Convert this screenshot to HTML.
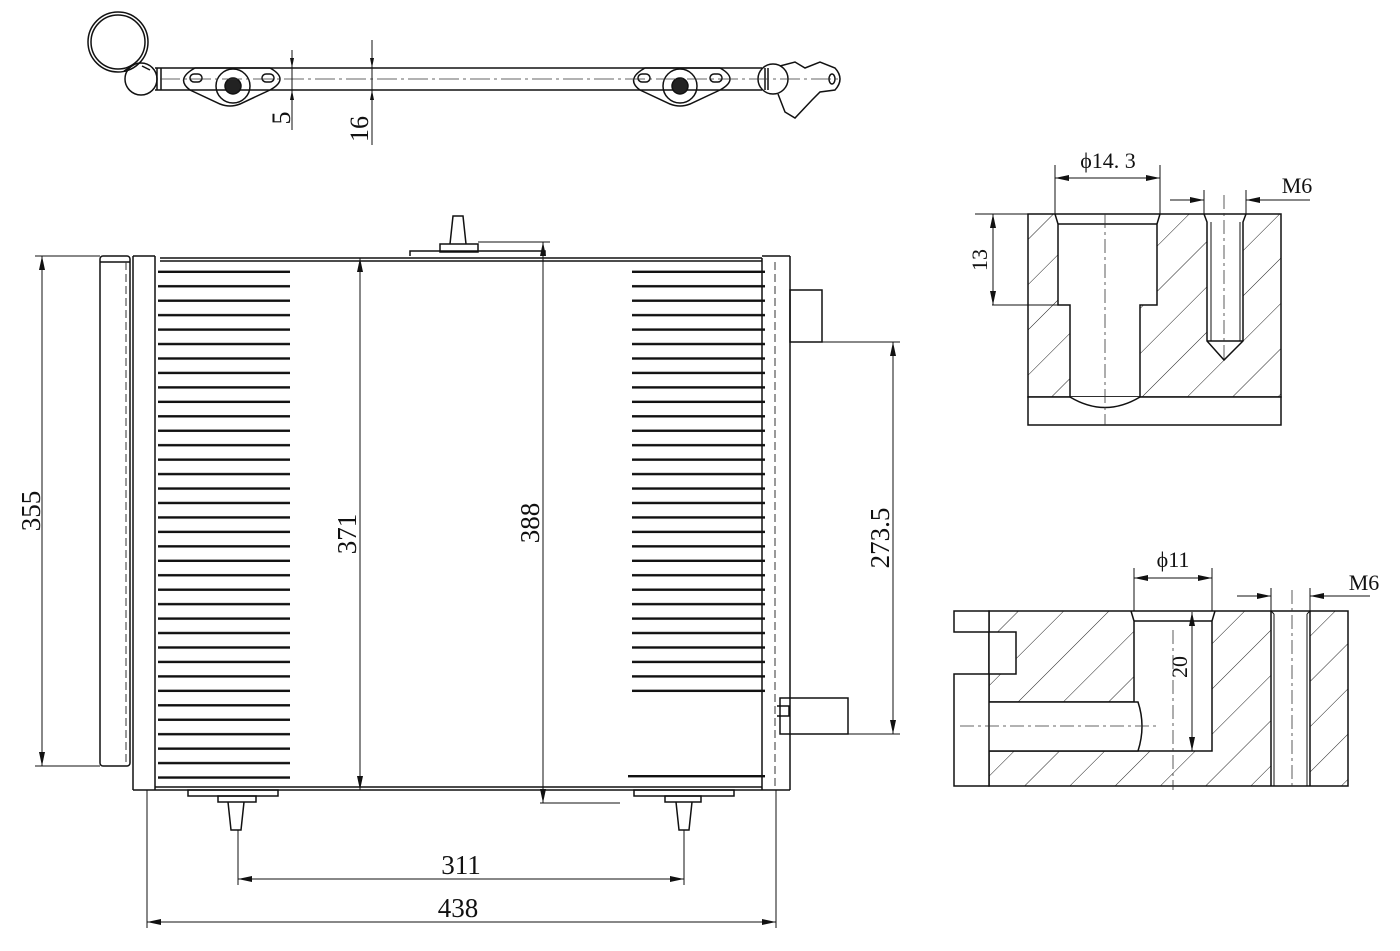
<!DOCTYPE html>
<html><head><meta charset="utf-8"><style>html,body{margin:0;padding:0;background:#fff}svg{display:block}text{font-family:"Liberation Serif",serif;fill:#111}</style></head><body>
<svg width="1400" height="951" viewBox="0 0 1400 951" xmlns="http://www.w3.org/2000/svg">
<defs>
<pattern id="h" width="32" height="32" patternUnits="userSpaceOnUse" patternTransform="rotate(45)"><line x1="0" y1="0" x2="0" y2="32" stroke="#222" stroke-width="1"/></pattern>
<pattern id="f" width="200" height="14.45" patternUnits="userSpaceOnUse" patternTransform="translate(0,270)"><rect x="0" y="0.6" width="200" height="2.4" fill="#111"/></pattern>
<marker id="a" viewBox="0 0 10 4" refX="10" refY="2" markerWidth="10" markerHeight="4" orient="auto-start-reverse" markerUnits="userSpaceOnUse"><path d="M0,0L10,2L0,4z" fill="#111"/></marker>
<marker id="b" viewBox="0 0 14 6" refX="14" refY="3" markerWidth="14" markerHeight="6" orient="auto-start-reverse" markerUnits="userSpaceOnUse"><path d="M0,0L14,3L0,6z" fill="#111"/></marker>
</defs>
<g fill="none" stroke="#111" stroke-width="1.5">
<circle cx="118" cy="42" r="30"/><circle cx="118" cy="42" r="27"/>
<line x1="124" y1="71" x2="135" y2="64"/><line x1="142" y1="66" x2="150" y2="70"/>
<circle cx="141" cy="79" r="16"/>
<line x1="155" y1="68" x2="762" y2="68"/><line x1="155" y1="90" x2="762" y2="90"/>
<line x1="157" y1="68" x2="157" y2="90"/><line x1="161" y1="68" x2="161" y2="90"/>
<path d="M195,68 L270,68 Q290,79 270,90 L240,104 Q230,108 220,104 L190,90 Q175,79 195,68z"/>
<circle cx="233" cy="86" r="17"/><circle cx="233" cy="86" r="8" fill="#222"/>
<rect x="190" y="74" width="12" height="8" rx="4"/><rect x="262" y="74" width="12" height="8" rx="4"/>
<path d="M645,68 L720,68 Q740,79 720,90 L690,104 Q680,108 670,104 L640,90 Q625,79 645,68z"/>
<circle cx="680" cy="86" r="17"/><circle cx="680" cy="86" r="8" fill="#222"/>
<rect x="638" y="74" width="12" height="8" rx="4"/><rect x="710" y="74" width="12" height="8" rx="4"/>
<line x1="765" y1="68" x2="765" y2="90"/><line x1="768" y1="68" x2="768" y2="90"/>
<circle cx="773" cy="79" r="15"/>
<path d="M780,66 L795,62 L805,68 L820,62 L835,68 Q845,79 835,90 L820,92 L812,100 L795,118 L785,112 L778,94"/>
<ellipse cx="832" cy="79" rx="3" ry="5"/>
</g>
<line x1="160" y1="79" x2="840" y2="79" stroke="#333" stroke-width="0.8" stroke-dasharray="20,4,3,4"/>
<g stroke="#111" stroke-width="1" fill="none">
<line x1="292" y1="50" x2="292" y2="130"/><line x1="292" y1="55" x2="292" y2="68" marker-end="url(#a)"/><line x1="292" y1="105" x2="292" y2="90" marker-end="url(#a)"/>
<line x1="372" y1="40" x2="372" y2="145"/><line x1="372" y1="50" x2="372" y2="68" marker-end="url(#a)"/><line x1="372" y1="110" x2="372" y2="90" marker-end="url(#a)"/>
</g>
<text transform="translate(284,118) rotate(-90)" font-size="26" text-anchor="middle" dominant-baseline="middle">5</text>
<text transform="translate(368,129) rotate(-90)" font-size="26" text-anchor="middle">16</text>

<!-- fins -->
<rect x="158" y="268" width="132" height="514" fill="url(#f)"/>
<rect x="632" y="266" width="133" height="428" fill="url(#f)"/>
<rect x="628" y="775" width="137" height="2.4" fill="#111"/>

<g fill="none" stroke="#111" stroke-width="1.5">
<rect x="100" y="256" width="30" height="510" rx="3"/>
<line x1="100" y1="262" x2="130" y2="262"/>
<line x1="133" y1="256" x2="133" y2="790"/><line x1="155" y1="256" x2="155" y2="790"/>
<line x1="133" y1="256" x2="155" y2="256"/>
<line x1="160" y1="258" x2="762" y2="258"/><line x1="160" y1="261" x2="762" y2="261"/>
<line x1="133" y1="790" x2="775" y2="790"/><line x1="155" y1="787" x2="762" y2="787"/>
<line x1="762" y1="258" x2="762" y2="790"/><line x1="762" y1="256" x2="790" y2="256"/>
<line x1="790" y1="256" x2="790" y2="790"/><line x1="775" y1="790" x2="790" y2="790"/>
<rect x="790" y="290" width="32" height="52"/>
<rect x="780" y="698" width="68" height="36"/>
<path d="M777,706 h12 v10 h-12"/>
<path d="M410,256 v-5 h135 v5"/><rect x="440" y="244" width="38" height="8"/>
<path d="M450,244 l3,-28 h10 l3,28"/>
<rect x="188" y="790" width="90" height="6"/><rect x="218" y="796" width="38" height="6"/>
<path d="M228,802 l3,28 h10 l3,-28"/>
<rect x="634" y="790" width="100" height="6"/><rect x="665" y="796" width="36" height="6"/>
<path d="M676,802 l3,28 h10 l3,-28"/>
</g>
<line x1="126" y1="262" x2="126" y2="766" stroke="#333" stroke-dasharray="8,4"/>
<line x1="775" y1="262" x2="775" y2="790" stroke="#333" stroke-dasharray="8,4"/>

<g stroke="#111" stroke-width="1" fill="none">
<line x1="35" y1="256" x2="100" y2="256"/><line x1="35" y1="766" x2="100" y2="766"/>
<line x1="42" y1="256" x2="42" y2="766" marker-start="url(#b)" marker-end="url(#b)"/>
<line x1="360" y1="258" x2="360" y2="790" marker-start="url(#b)" marker-end="url(#b)"/>
<line x1="478" y1="242" x2="550" y2="242"/><line x1="543" y1="242" x2="543" y2="803" marker-start="url(#b)" marker-end="url(#b)"/><line x1="540" y1="803" x2="620" y2="803"/>
<line x1="822" y1="342" x2="900" y2="342"/><line x1="848" y1="734" x2="900" y2="734"/>
<line x1="893" y1="342" x2="893" y2="734" marker-start="url(#b)" marker-end="url(#b)"/>
<line x1="238" y1="830" x2="238" y2="885"/><line x1="684" y1="830" x2="684" y2="885"/>
<line x1="238" y1="879" x2="684" y2="879" marker-start="url(#b)" marker-end="url(#b)"/>
<line x1="147" y1="790" x2="147" y2="928"/><line x1="776" y1="790" x2="776" y2="928"/>
<line x1="147" y1="922" x2="776" y2="922" marker-start="url(#b)" marker-end="url(#b)"/>
</g>
<text transform="translate(34,511) rotate(-90)" font-size="27" text-anchor="middle" dominant-baseline="middle">355</text>
<text transform="translate(350,534) rotate(-90)" font-size="27" text-anchor="middle" dominant-baseline="middle">371</text>
<text transform="translate(533,523) rotate(-90)" font-size="27" text-anchor="middle" dominant-baseline="middle">388</text>
<text transform="translate(883,538) rotate(-90)" font-size="27" text-anchor="middle" dominant-baseline="middle">273.5</text>
<text x="461" y="874" font-size="27" text-anchor="middle">311</text>
<text x="458" y="917" font-size="27" text-anchor="middle">438</text>

<g stroke="#111" stroke-width="1.5">
<path d="M1028,214 H1281 V397 H1028z M1055,214 L1058,224 V305 H1070 V397 Q1105,418 1140,397 V305 H1157 V224 L1160,214z M1204,214 L1207,222 V341 L1224,360 L1243,341 V222 L1246,214z" fill="url(#h)" fill-rule="evenodd"/>
<rect x="1028" y="397" width="253" height="28" fill="#fff"/>
<path d="M1070,397 Q1105,418 1140,397" fill="#fff"/>
<line x1="1058" y1="224" x2="1157" y2="224"/><line x1="1207" y1="341" x2="1243" y2="341"/>
<line x1="1211" y1="222" x2="1211" y2="341" stroke-width="1"/><line x1="1240" y1="222" x2="1240" y2="341" stroke-width="1"/>
</g>
<g stroke="#333" stroke-width="0.8" stroke-dasharray="14,4,3,4"><line x1="1105" y1="214" x2="1105" y2="425"/><line x1="1224" y1="195" x2="1224" y2="362"/></g>
<g stroke="#111" stroke-width="1" fill="none">
<line x1="1055" y1="165" x2="1055" y2="214"/><line x1="1160" y1="165" x2="1160" y2="214"/>
<line x1="1055" y1="178" x2="1160" y2="178" marker-start="url(#b)" marker-end="url(#b)"/>
<line x1="1204" y1="190" x2="1204" y2="214"/><line x1="1246" y1="190" x2="1246" y2="214"/>
<line x1="1170" y1="200" x2="1204" y2="200" marker-end="url(#b)"/><line x1="1310" y1="200" x2="1246" y2="200" marker-end="url(#b)"/>
<line x1="975" y1="214" x2="1028" y2="214"/><line x1="992" y1="305" x2="1058" y2="305"/>
<line x1="993" y1="214" x2="993" y2="305" marker-start="url(#b)" marker-end="url(#b)"/>
</g>
<text x="1108" y="168" font-size="22" text-anchor="middle">ϕ14. 3</text>
<text x="1297" y="193" font-size="22" text-anchor="middle">M6</text>
<text transform="translate(982,260) rotate(-90)" font-size="22" text-anchor="middle" dominant-baseline="middle">13</text>

<g stroke="#111" stroke-width="1.5">
<path d="M989,611 H1348 V786 H989z M1131,611 L1134,621 V702 H989 V751 H1212 V621 L1215,611z M1271,611 V786 H1310 V611z" fill="url(#h)" fill-rule="evenodd"/>
<path d="M989,702 H1138 Q1146,726 1138,751 H989 Q981,726 989,702z" fill="#fff"/>
<path d="M954,611 H989 V786 H954 V674 H1016 V632 H954z" fill="#fff"/>
<line x1="1134" y1="621" x2="1212" y2="621"/>
<line x1="1274" y1="614" x2="1274" y2="786" stroke-width="1"/><line x1="1307" y1="614" x2="1307" y2="786" stroke-width="1"/>
<line x1="1271" y1="611" x2="1274" y2="614" stroke-width="1"/><line x1="1310" y1="611" x2="1307" y2="614" stroke-width="1"/>
</g>
<g stroke="#333" stroke-width="0.8" stroke-dasharray="14,4,3,4"><line x1="960" y1="726" x2="1158" y2="726"/><line x1="1173" y1="630" x2="1173" y2="790"/><line x1="1292" y1="590" x2="1292" y2="786"/></g>
<g stroke="#111" stroke-width="1" fill="none">
<line x1="1134" y1="568" x2="1134" y2="611"/><line x1="1212" y1="568" x2="1212" y2="611"/>
<line x1="1134" y1="578" x2="1212" y2="578" marker-start="url(#b)" marker-end="url(#b)"/>
<line x1="1271" y1="588" x2="1271" y2="611"/><line x1="1310" y1="588" x2="1310" y2="611"/>
<line x1="1237" y1="596" x2="1271" y2="596" marker-end="url(#b)"/><line x1="1370" y1="596" x2="1310" y2="596" marker-end="url(#b)"/>
<line x1="1192" y1="612" x2="1192" y2="751" marker-start="url(#b)" marker-end="url(#b)"/>
</g>
<text x="1173" y="567" font-size="22" text-anchor="middle">ϕ11</text>
<text x="1364" y="590" font-size="22" text-anchor="middle">M6</text>
<text transform="translate(1182,667) rotate(-90)" font-size="22" text-anchor="middle" dominant-baseline="middle">20</text>
</svg>
</body></html>
